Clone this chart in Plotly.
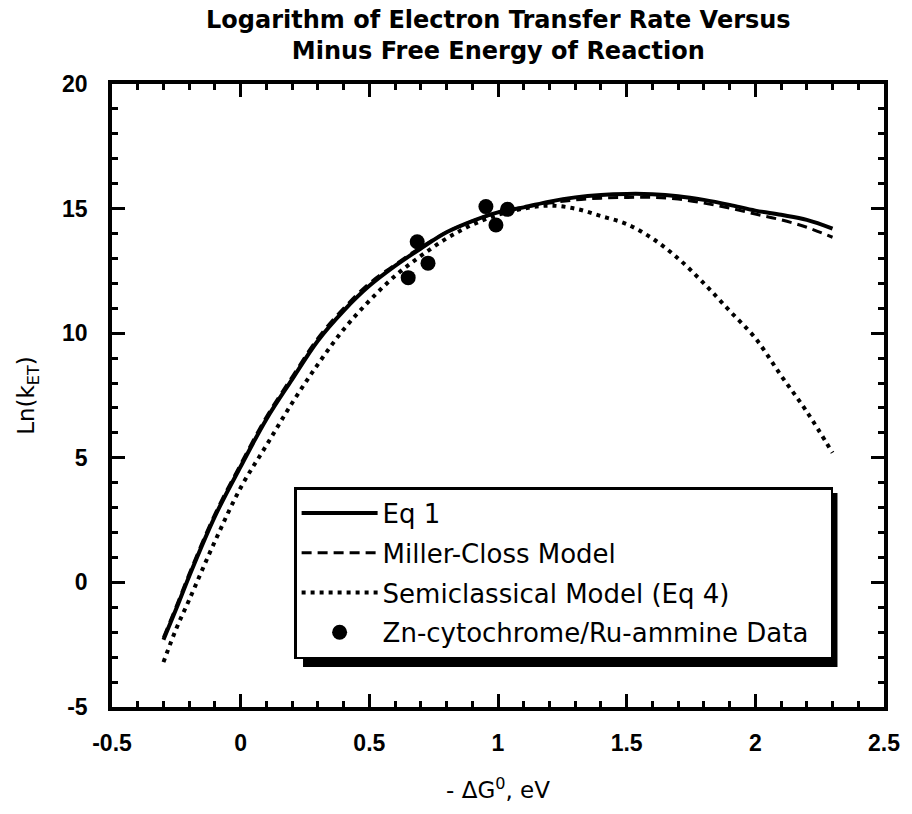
import plotly.graph_objects as go

# ---------------- data ----------------
dG = [-0.3, -0.25, -0.2, -0.1, 0.0, 0.1, 0.2, 0.3, 0.4, 0.5, 0.6, 0.7, 0.8, 0.9,
      1.0, 1.1, 1.2, 1.3, 1.4, 1.5, 1.6, 1.7, 1.8, 1.9, 2.0, 2.1, 2.2, 2.3]
eq1 = [-2.3, -1.05, 0.25, 2.65, 4.65, 6.55, 8.15, 9.7, 10.9, 11.9, 12.7, 13.4, 14.05, 14.5,
       14.85, 15.05, 15.28, 15.45, 15.55, 15.59, 15.58, 15.5, 15.35, 15.15, 14.92, 14.75, 14.55, 14.2]
miller_closs = [-2.2, -0.95, 0.35, 2.75, 4.75, 6.65, 8.25, 9.8, 11.0, 12.0, 12.75, 13.45, 14.05, 14.5,
                14.85, 15.05, 15.22, 15.35, 15.42, 15.45, 15.45, 15.38, 15.22, 15.02, 14.78, 14.55, 14.25, 13.85]
semiclassical = [-3.2, -1.85, -0.7, 1.65, 3.8, 5.5, 7.2, 8.75, 10.15, 11.3, 12.3, 13.1, 13.8, 14.35,
                 14.75, 15.0, 15.12, 15.0, 14.7, 14.38, 13.8, 13.0, 12.0, 10.9, 9.8, 8.3, 6.85, 5.2]
data_x = [0.651, 0.686, 0.728, 0.953, 0.992, 1.037]
data_y = [12.23, 13.67, 12.81, 15.08, 14.34, 14.97]

x_tickvals = [-0.5, 0, 0.5, 1, 1.5, 2, 2.5]
x_ticktext = ["-0.5", "0", "0.5", "1", "1.5", "2", "2.5"]
y_tickvals = [-5, 0, 5, 10, 15, 20]
y_ticktext = ["-5", "0", "5", "10", "15", "20"]
title_text = "Logarithm of Electron Transfer Rate Versus<br>Minus Free Energy of Reaction"

# ---------------- figure ----------------
fig = go.Figure()
fig.add_trace(go.Scatter(x=dG, y=eq1, mode="lines", name="Eq 1", legendgroup="a",
                         line=dict(color="black", width=4, shape="spline")))
fig.add_trace(go.Scatter(x=dG, y=miller_closs, mode="lines", name="Miller-Closs Model", legendgroup="b",
                         line=dict(color="black", width=3, dash="10px,6px", shape="spline")))
fig.add_trace(go.Scatter(x=dG, y=semiclassical, mode="lines", name="Semiclassical Model (Eq 4)", legendgroup="c",
                         line=dict(color="black", width=4, dash="4px,5px", shape="spline")))
fig.add_trace(go.Scatter(x=data_x, y=data_y, mode="markers",
                         name="Zn-cytochrome/Ru-ammine Data\u00a0\u00a0", legendgroup="d",
                         marker=dict(color="black", size=15)))

L, R, T, B = 112, 20, 84, 107
W, H = 912, 814
pw = W - L - R
ph = H - T - B


def px_to_paper_x(px):
    return (px - L) / pw


def px_to_paper_y(py):
    return (H - B - py) / ph


# legend drop shadow
fig.add_shape(type="rect", xref="paper", yref="paper",
              x0=px_to_paper_x(305), x1=px_to_paper_x(845),
              y0=px_to_paper_y(667), y1=px_to_paper_y(493),
              fillcolor="black", line=dict(width=0), layer="above")

# title
fig.add_annotation(text=title_text, xref="paper", yref="paper", x=0.5, y=px_to_paper_y(4),
                   xanchor="center", yanchor="top", showarrow=False,
                   font=dict(family="DejaVu Sans", size=24, color="black", weight="bold"))

axis_common = dict(
    showline=True, linecolor="black", linewidth=3.5, mirror="ticks",
    ticks="inside", ticklen=13, tickwidth=2.5, tickcolor="black",
    showgrid=False, zeroline=False,
    tickfont=dict(family="Liberation Sans", size=23, color="black", weight="bold"),
)

fig.update_layout(
    width=W, height=H,
    margin=dict(l=L, r=R, t=T, b=B, pad=0),
    paper_bgcolor="white", plot_bgcolor="white",
    xaxis=dict(range=[-0.5, 2.5], tickvals=x_tickvals, ticktext=x_ticktext,
               minor=dict(dtick=0.1, ticklen=6, tickwidth=2.5, tickcolor="black", ticks="inside"),
               ticklabelstandoff=13,
               title=dict(text="- ΔG<sup>0</sup>, eV", standoff=28,
                          font=dict(family="DejaVu Sans", size=23, color="black")),
               **axis_common),
    yaxis=dict(range=[-5, 20], tickvals=y_tickvals, ticktext=y_ticktext,
               minor=dict(dtick=1, ticklen=6, tickwidth=2.5, tickcolor="black", ticks="inside"),
               ticklabelstandoff=16,
               title=dict(text="Ln(k<sub>ET</sub>)", standoff=22,
                          font=dict(family="DejaVu Sans", size=23, color="black")),
               **axis_common),
    legend=dict(x=px_to_paper_x(296), y=px_to_paper_y(487), xanchor="left", yanchor="top",
                bgcolor="white", bordercolor="black", borderwidth=2.5,
                font=dict(family="DejaVu Sans", size=26, color="black"),
                traceorder="grouped", tracegroupgap=3, itemwidth=76),
    showlegend=True,
)

fig.write_html("out.html")
